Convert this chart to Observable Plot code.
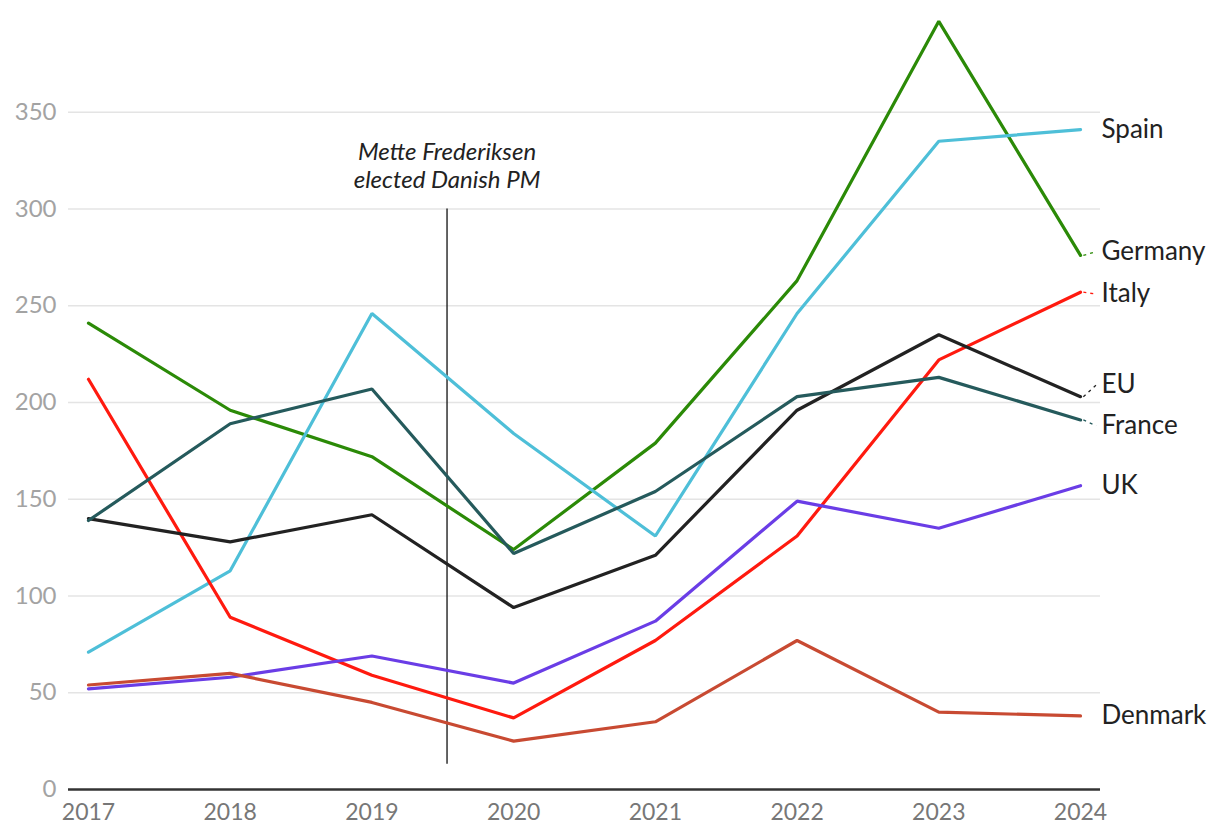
<!DOCTYPE html>
<html>
<head>
<meta charset="utf-8">
<script src="https://cdn.jsdelivr.net/npm/d3@7"></script>
<script src="https://cdn.jsdelivr.net/npm/@observablehq/plot@0.6"></script>
<style>
  html, body { margin: 0; padding: 0; background: #fff; }
  #chart { width: 1220px; height: 840px; }
</style>
</head>
<body>
<div id="chart"></div>
<script>
const years = [2017, 2018, 2019, 2020, 2021, 2022, 2023, 2024];
const countries = ["Germany", "Spain", "Italy", "EU", "France", "UK", "Denmark"];
const germany = [241, 196, 172, 124, 179, 263, 397, 276];
const spain   = [71, 113, 246, 184, 131, 246, 335, 341];
const italy   = [212, 89, 59, 37, 77, 131, 222, 257];
const eu      = [140, 128, 142, 94, 121, 196, 235, 203];
const france  = [139, 189, 207, 122, 154, 203, 213, 191];
const uk      = [52, 58, 69, 55, 87, 149, 135, 157];
const denmark = [54, 60, 45, 25, 35, 77, 40, 38];
const colors  = ["#2b8a07", "#4ebfd8", "#ff1a0f", "#222222", "#255a5c", "#6a3de6", "#c84a32"];
// label positions (value units) used to avoid overlaps at the right edge
const labelY  = [278, 341, 256, 209, 188, 157, 38];
const withConnector = ["Germany", "Italy", "EU", "France"];
const yTicks  = [0, 50, 100, 150, 200, 250, 300, 350];
const eventDate = 2019.53;
const eventText = "Mette Frederiksen\nelected Danish PM";

const seriesVals = [germany, spain, italy, eu, france, uk, denmark];
const data = [];
countries.forEach((c, i) => years.forEach((yr, j) => data.push({country: c, year: yr, value: seriesVals[i][j]})));
const ends = countries.map((c, i) => ({country: c, year: 2024, value: seriesVals[i][7], ly: labelY[i], color: colors[i]}));
const connectors = ends.filter(d => withConnector.includes(d.country));

const font = "Lato, 'Open Sans', sans-serif";

const chart = Plot.plot({
  width: 1220,
  height: 840,
  marginLeft: 68,
  marginRight: 120,
  marginTop: 15,
  marginBottom: 51,
  style: {fontFamily: font, background: "#fff", overflow: "visible"},
  x: {domain: [2016.859, 2024.141], ticks: years, tickFormat: d => String(d), tickSize: 0, tickPadding: 12, label: null},
  y: {domain: [0, 400], ticks: yTicks, tickSize: 0, tickPadding: 12, label: null},
  color: {domain: countries, range: colors},
  marks: [
    Plot.gridY(yTicks.filter(d => d > 0), {stroke: "#e4e4e4", strokeOpacity: 1, strokeWidth: 1.5}),
    Plot.ruleY([0], {stroke: "#333", strokeWidth: 2.5}),
    Plot.axisY({ticks: yTicks, tickSize: 0, tickPadding: 12, fontSize: 24, fill: "#a3a3a3", label: null}),
    Plot.axisX({ticks: years, tickFormat: d => String(d), tickSize: 0, tickPadding: 14, fontSize: 23, fill: "#777", label: null}),
    Plot.ruleX([eventDate], {y1: 13, y2: 300, stroke: "#111", strokeWidth: 1.3}),
    Plot.text([eventText], {x: eventDate, y: 311, frameAnchor: "middle", fontSize: 24, fontStyle: "italic", fill: "#222", lineHeight: 1.17, lineAnchor: "bottom"}),
    Plot.line(data, {x: "year", y: "value", z: "country", stroke: "country", strokeWidth: 3.2, strokeLinejoin: "miter"}),
    Plot.link(connectors, {x1: 2024.02, y1: "value", x2: 2024.11, y2: "ly", stroke: "color", strokeWidth: 1.3, strokeDasharray: "3,4"}),
    Plot.text(ends, {x: 2024.141, y: "ly", text: "country", textAnchor: "start", dx: 1, fontSize: 26, fill: "#222"})
  ]
});
document.getElementById("chart").appendChild(chart);
</script>
</body>
</html>
